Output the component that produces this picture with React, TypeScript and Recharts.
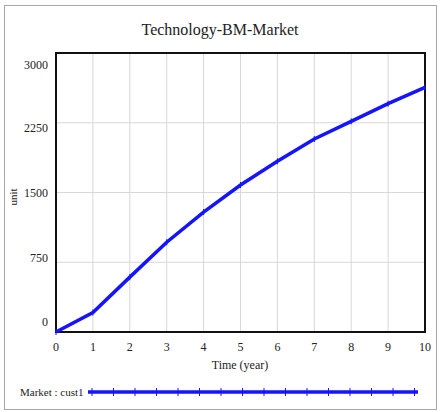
import React from 'react';
import {
  LineChart,
  Line,
  XAxis,
  YAxis,
  CartesianGrid,
  ReferenceArea,
} from 'recharts';

const years = [0, 1, 2, 3, 4, 5, 6, 7, 8, 9, 10];
const market = [0, 210, 590, 965, 1290, 1580, 1835, 2075, 2265, 2455, 2630];
const xTicks = [0, 1, 2, 3, 4, 5, 6, 7, 8, 9, 10];
const yTicks = [0, 750, 1500, 2250, 3000];

const data = years.map((t, i) => ({ t, market: market[i] }));

const serif = '"Liberation Serif", "DejaVu Serif", serif';
const blue = '#1414ff';

// Vensim puts the y labels slightly off the gridlines
const yLabelShift: Record<number, number> = { 3000: 12, 2250: 5, 1500: 0, 750: -4, 0: -10 };

function YTick(props: any) {
  const { x, y, payload } = props;
  const dy = yLabelShift[payload.value] ?? 0;
  return (
    <text x={x} y={y + dy} dy={4} textAnchor="end" fontSize={12} fontFamily={serif} fill="#222">
      {payload.value}
    </text>
  );
}

function TickDot(props: any) {
  const { cx, cy } = props;
  if (cx == null || cy == null) return null;
  return <line x1={cx} y1={cy - 3} x2={cx} y2={cy + 3} stroke={blue} strokeWidth={1} />;
}

function LegendBox() {
  const marks = Array.from({ length: 16 }, (_, i) => 6 + i * 21.5);
  return (
    <div
      style={{
        position: 'absolute',
        left: 0,
        top: 386,
        display: 'flex',
        alignItems: 'center',
        fontFamily: serif,
        fontSize: 11,
        color: '#222',
      }}
    >
      <span style={{ marginLeft: 20, width: 66 }}>Market : cust1</span>
      <svg width={336} height={12}>
        <line x1={2} y1={6} x2={332} y2={6} stroke={blue} strokeWidth={3.5} />
        {marks.map((m) => (
          <line key={m} x1={m} y1={2} x2={m} y2={10} stroke={blue} strokeWidth={1} />
        ))}
      </svg>
    </div>
  );
}

export default function App() {
  return (
    <div style={{ position: 'fixed', left: 0, top: 0, width: 440, height: 412, background: '#fff' }}>
      <div
        style={{
          position: 'absolute',
          left: 4,
          top: 5,
          width: 433,
          height: 405,
          border: '1px solid #a8a8a8',
          boxSizing: 'border-box',
        }}
      />
      <div
        style={{
          position: 'absolute',
          left: 0,
          width: 440,
          top: 21,
          textAlign: 'center',
          fontFamily: serif,
          fontSize: 16,
          color: '#222',
        }}
      >
        Technology-BM-Market
      </div>
      <div
        style={{
          position: 'absolute',
          left: 13,
          top: 197,
          transform: 'translate(-50%, -50%) rotate(-90deg)',
          fontFamily: serif,
          fontSize: 11,
          color: '#222',
        }}
      >
        unit
      </div>
      <div
        style={{
          position: 'absolute',
          left: 0,
          width: 440,
          paddingLeft: 40,
          boxSizing: 'border-box',
          top: 358,
          textAlign: 'center',
          fontFamily: serif,
          fontSize: 12,
          color: '#222',
        }}
      >
        Time (year)
      </div>
      <LineChart
        width={440}
        height={412}
        data={data}
        margin={{ top: 53, right: 15, bottom: 50, left: 0 }}
        style={{ position: 'absolute', left: 0, top: 0 }}
      >
        <CartesianGrid stroke="#d8d8d8" strokeWidth={1} />
        <XAxis
          dataKey="t"
          type="number"
          domain={[0, 10]}
          ticks={xTicks}
          height={30}
          axisLine={false}
          tickLine={false}
          tickMargin={4}
          tick={{ fontSize: 12, fontFamily: serif, fill: '#222' }}
        />
        <YAxis
          type="number"
          domain={[0, 3000]}
          ticks={yTicks}
          width={56}
          axisLine={false}
          tickLine={false}
          tickMargin={2}
          tick={<YTick />}
        />
        <ReferenceArea
          x1={0}
          x2={10}
          y1={0}
          y2={3000}
          fill="none"
          fillOpacity={0}
          stroke="#111"
          strokeWidth={2}
          ifOverflow="visible"
        />
        <Line
          type="linear"
          dataKey="market"
          stroke={blue}
          strokeWidth={3.5}
          dot={<TickDot />}
          activeDot={false}
          isAnimationActive={false}
        />
      </LineChart>
      <LegendBox />
    </div>
  );
}
